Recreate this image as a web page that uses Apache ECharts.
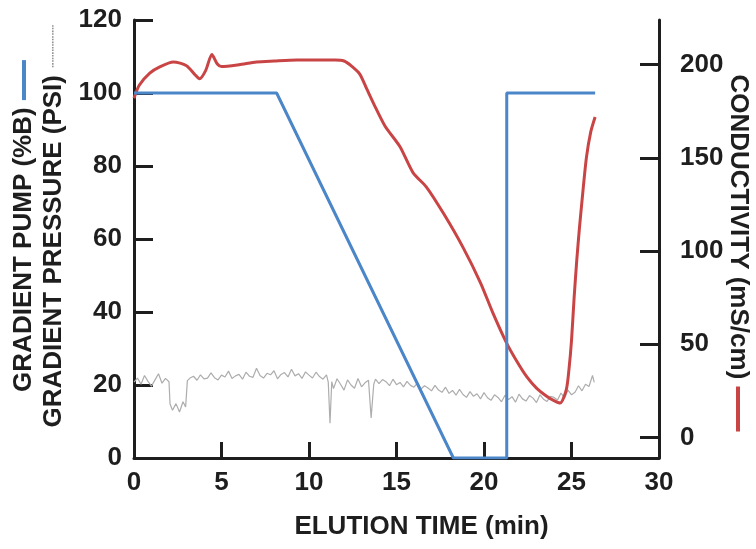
<!DOCTYPE html>
<html>
<head>
<meta charset="utf-8">
<script src="https://cdn.jsdelivr.net/npm/echarts@6.0.0/dist/echarts.min.js"></script>
<style>
html,body{margin:0;padding:0;background:#fff;}
#chart{width:756px;height:549px;}
</style>
</head>
<body>
<div id="chart"></div>
<script>
// Elution time (min) ticks
var timeTicks = [0, 5, 10, 15, 20, 25, 30];
var leftTicks = [0, 20, 40, 60, 80, 100, 120];
var rightTicks = [0, 50, 100, 150, 200];

// Gradient pump (%B)
var pumpTime  = [0, 8.15, 18.25, 21.3, 21.3, 26.35];
var pumpValue = [100, 100, 0, 0, 100, 100];

// Conductivity (mS/cm)
var condTime  = [0, 0.3, 0.9, 1.5, 2.25, 3.0, 3.5, 3.75, 4.1, 4.45, 4.75, 5.0, 6.0, 7.0, 8.0, 9.3, 10.5, 11.5, 12.0, 12.4, 12.9, 13.3, 13.7, 14.35, 15.2, 15.95, 16.7, 17.7, 18.8, 19.8, 20.5, 21.3, 21.9, 22.45, 23.0, 23.6, 24.0, 24.35, 24.7, 24.85, 25.0, 25.15, 25.3, 25.45, 25.6, 25.85, 26.1, 26.35];
var condValue = [182, 189, 195.5, 199, 201.5, 199.5, 194.5, 192.5, 197, 205.5, 200.5, 199, 200, 201.5, 202, 202.5, 202.5, 202.5, 202, 199.5, 195, 187, 179, 167, 156, 142, 134.5, 120, 102, 83, 67, 50.5, 40.5, 32.5, 26.5, 22, 19.8, 18.5, 25.5, 36, 52, 75, 95, 112, 127, 150, 164, 172];

// Gradient pressure (PSI): [time, value]
var pressure = [
 [0.0,20.8],[0.2,21.9],[0.4,20.2],[0.6,22.6],[0.8,21.0],[1.0,19.7],[1.2,21.4],[1.4,23.1],[1.6,20.5],[1.8,21.8],[2.0,20.9],
 [2.06,14.8],[2.2,13.1],[2.4,14.9],[2.6,12.6],[2.8,15.4],[2.95,14.0],[3.05,21.2],
 [3.2,21.9],[3.4,22.4],[3.6,21.3],[3.8,22.8],[4.0,21.7],[4.2,21.9],[4.4,23.3],[4.6,22.0],[4.8,21.4],[5.0,22.7],
 [5.2,22.2],[5.4,23.8],[5.6,21.8],[5.8,22.5],[6.0,22.9],[6.2,21.6],[6.4,23.5],[6.6,22.4],[6.8,22.1],[7.0,24.6],
 [7.2,22.6],[7.4,21.9],[7.6,23.2],[7.8,22.8],[8.0,23.9],[8.2,21.7],[8.4,22.9],[8.6,23.4],[8.8,22.2],[9.0,24.3],
 [9.2,22.5],[9.4,23.1],[9.6,21.8],[9.8,23.6],[10.0,22.7],[10.2,21.9],[10.4,23.5],[10.6,22.3],[10.8,21.6],[11.0,22.8],
 [11.1,20.8],[11.2,9.5],[11.3,20.9],[11.4,19.0],[11.6,21.7],[11.8,20.2],[12.0,18.6],[12.2,21.4],[12.4,20.0],[12.6,19.1],
 [12.8,21.8],[13.0,19.5],[13.2,20.6],[13.4,21.3],[13.55,11.0],[13.7,20.2],[13.8,21.6],[14.0,20.4],[14.2,21.5],[14.4,20.9],
 [14.6,19.8],[14.8,21.6],[15.0,20.1],[15.2,20.7],[15.4,19.5],[15.6,21.0],[15.8,19.9],[16.0,19.4],[16.2,20.6],[16.4,18.9],
 [16.6,19.8],[16.8,19.2],[17.0,18.4],[17.2,19.9],[17.4,18.6],[17.6,18.0],[17.8,19.4],[18.0,17.7],[18.2,18.5],[18.4,17.2],
 [18.6,18.8],[18.8,17.4],[19.0,16.6],[19.2,18.2],[19.4,16.9],[19.6,17.6],[19.8,16.2],[20.0,17.9],[20.2,16.5],[20.4,15.8],
 [20.6,17.3],[20.8,16.6],[21.0,15.4],[21.2,17.2],[21.4,16.0],[21.6,16.8],[21.8,15.3],[22.0,17.5],[22.2,16.2],[22.4,15.6],
 [22.6,17.1],[22.8,16.4],[23.0,15.2],[23.2,17.3],[23.4,16.1],[23.6,15.5],[23.8,16.9],[24.0,16.6],[24.2,15.9],[24.4,17.8],
 [24.6,16.4],[24.8,18.6],[25.0,17.3],[25.2,18.0],[25.4,19.8],[25.6,18.4],[25.8,20.2],[26.0,19.6],[26.2,22.6],[26.3,20.7]
];

function pairs(xs, ys){ var out=[]; for(var i=0;i<xs.length;i++){ out.push([xs[i], ys[i]]); } return out; }

var FONT = "'Liberation Sans', Arial, Helvetica, sans-serif";
var INK = '#1e1e1e';
var BLUE = '#4a86c8';
var RED = '#c94545';
var GRAY = '#adadad';

var chart = echarts.init(document.getElementById('chart'), null, {renderer:'canvas'});
var option = {
  backgroundColor: '#fff',
  animation: false,
  grid: { left: 134, right: 97, top: 20, bottom: 91, outerBoundsMode: 'none', containLabel: false },
  xAxis: {
    type: 'value', min: 0, max: 30, interval: 5,
    name: 'ELUTION TIME (min)', nameLocation: 'middle', nameGap: 56, nameMoveOverlap: false,
    nameTextStyle: { fontFamily: FONT, fontWeight: 'bold', fontSize: 26, color: INK, padding: [0,0,0,50] },
    axisLine: { show: true, lineStyle: { color: INK, width: 3 } },
    axisTick: { show: true, inside: true, length: 16, lineStyle: { color: INK, width: 3 } },
    axisLabel: { margin: 12, fontFamily: FONT, fontWeight: 'bold', fontSize: 26, color: INK,
                 formatter: function(v){ return timeTicks.indexOf(v) >= 0 ? String(v) : ''; } },
    splitLine: { show: false }
  },
  yAxis: [
    {
      type: 'value', min: 0, max: 120, interval: 20, position: 'left',
      name: 'GRADIENT PUMP (%B) {b|}\nGRADIENT PRESSURE (PSI) {g|┈┈┈┈}',
      nameLocation: 'middle', nameRotate: 90, nameGap: 65, nameMoveOverlap: false,
      nameTextStyle: { fontFamily: FONT, fontWeight: 'bold', fontSize: 26, color: INK, lineHeight: 30,
        padding: [0,0,0,26],
        rich: {
          b: { width: 40, height: 4, backgroundColor: BLUE, verticalAlign: 'middle' },
          g: { fontFamily: "'DejaVu Sans', sans-serif", fontSize: 18, color: '#8f8f8f', fontWeight: 'normal', verticalAlign: 'middle' }
        } },
      axisLine: { show: true, lineStyle: { color: INK, width: 3 } },
      axisTick: { show: true, inside: true, length: 19, lineStyle: { color: INK, width: 3 } },
      axisLabel: { margin: 12, fontFamily: FONT, fontWeight: 'bold', fontSize: 26, color: INK,
                   formatter: function(v){ return leftTicks.indexOf(v) >= 0 ? String(v) : ''; } },
      splitLine: { show: false }
    },
    {
      type: 'value', min: -11, max: 224, position: 'right',
      name: 'CONDUCTIVITY (mS/cm) {r|}',
      nameLocation: 'middle', nameRotate: -90, nameGap: 66, nameMoveOverlap: false,
      nameTextStyle: { fontFamily: FONT, fontWeight: 'bold', fontSize: 26, color: INK,
        padding: [0,0,0,28],
        rich: { r: { width: 45, height: 4, backgroundColor: RED, verticalAlign: 'middle' } } },
      axisLine: { show: true, lineStyle: { color: INK, width: 3 } },
      axisTick: { show: true, inside: true, length: 19, customValues: rightTicks, lineStyle: { color: INK, width: 3 } },
      axisLabel: { margin: 21, fontFamily: FONT, fontWeight: 'bold', fontSize: 26, color: INK, customValues: rightTicks },
      splitLine: { show: false }
    }
  ],
  series: [
    { name: 'GRADIENT PRESSURE (PSI)', type: 'line', yAxisIndex: 0, data: pressure,
      showSymbol: false, symbol: 'none', lineStyle: { color: GRAY, width: 1.2 }, z: 1 },
    { name: 'CONDUCTIVITY (mS/cm)', type: 'line', yAxisIndex: 1, data: pairs(condTime, condValue),
      showSymbol: false, symbol: 'none', smooth: 0.25, lineStyle: { color: RED, width: 3 }, z: 2 },
    { name: 'GRADIENT PUMP (%B)', type: 'line', yAxisIndex: 0, data: pairs(pumpTime, pumpValue),
      showSymbol: false, symbol: 'none', lineStyle: { color: BLUE, width: 3 }, z: 3 }
  ]
};
chart.setOption(option);
</script>
</body>
</html>
